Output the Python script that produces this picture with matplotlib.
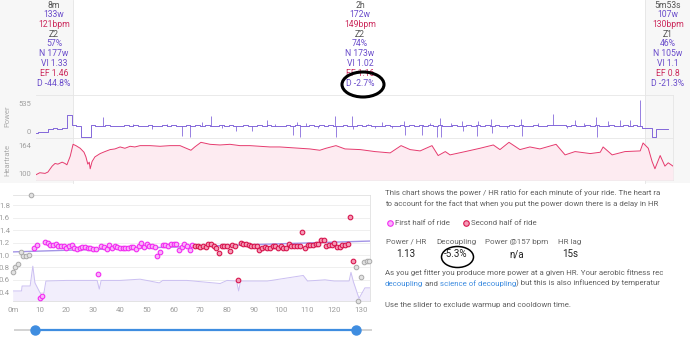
import numpy as np
import matplotlib
matplotlib.use('Agg')
import matplotlib.pyplot as plt
from matplotlib.patches import Ellipse, Rectangle

plt.rcParams['font.family'] = ['Roboto', 'DejaVu Sans']

W, H = 690, 363

GREY_TXT = '#555555'
PURPLE = '#6a4ccb'
CRIMSON = '#cc2a5c'
BLUE = '#3f8de0'

# summary columns: warmup / main / cooldown
stats_warmup = ['8m', '133w', '121bpm', 'Z2', '57%', 'N 177w', 'VI 1.33', 'EF 1.46', 'D -44.8%']
stats_main = ['2h', '172w', '149bpm', 'Z2', '74%', 'N 173w', 'VI 1.02', 'EF 1.16', 'D -2.7%']
stats_cooldown = ['5m53s', '107w', '130bpm', 'Z1', '46%', 'N 105w', 'VI 1.1', 'EF 0.8', 'D -21.3%']
stat_colors = [GREY_TXT, PURPLE, CRIMSON, GREY_TXT, PURPLE, PURPLE, PURPLE, CRIMSON, PURPLE]

# power trace, one value per minute (W)
power_min = list(range(134))
power_w = [58, 60, 62, 108, 112, 110, 113, 280,
           152, 141, 0, 0, 150, 139, 147, 155, 142, 148,
           138, 151, 145, 156, 140, 147, 153, 139, 146, 150,
           142, 154, 137, 148, 152, 141, 149, 144, 156, 140,
           147, 153, 138, 150, 145, 142, 155, 147, 139, 151,
           146, 154, 140, 148, 137, 152, 143, 150, 145, 141,
           155, 144, 149, 138, 152, 146, 141, 153, 147, 140,
           150, 143, 156, 139, 148, 145, 152, 138, 147, 154,
           141, 149, 145, 153, 139, 150, 144, 156, 142, 148,
           152, 137, 147, 154, 143, 149, 140, 151, 146, 155,
           139, 148, 153, 142, 150, 145, 138, 152, 147, 144,
           151, 160, 157, 149, 142, 153, 146, 140, 150, 145,
           154, 141, 148, 152, 139, 147, 155, 143, 150, 146,
           111, 112, 0, 102, 101, 103]
# short spikes / dropouts in the power trace
spike_t = [14.1, 20.3, 24.5, 27.6, 30.7, 32.4, 34.9, 36.8, 39.2, 42.0, 45.4, 48.5, 50.3,
           54.1, 54.8, 55.5, 56.8, 59.4, 62.9, 63.1, 66.4, 66.6, 69.8, 71.3, 72.7, 74.9,
           77.4, 77.6, 81.1, 82.9, 84.4, 85.0, 85.2, 87.4, 89.6, 89.8, 92.8, 93.0, 95.7,
           95.9, 99.0, 102.0, 102.2, 105.6, 108.7, 111.7, 113.4, 115.2, 117.8, 118.0,
           120.3, 122.9, 125.0, 127.1]
spike_w = [256, 172, 110, 170, 15, 0, 196, 271, 118, 83, 83, 219, 170,
           30, 196, 0, 178, 112, 271, 0, 271, 100, 172, 115, 189, 116,
           211, 30, 30, 178, 0, 249, 0, 175, 204, 72, 15, 204, 234,
           53, 115, 234, 10, 176, 302, 120, 219, 178, 255, 0,
           211, 219, 219, 480]

# heart rate trace (min, bpm)
hr_t = [0, 0.8, 1.9, 2.5, 3.4, 4.0, 4.6, 5.5, 6.1, 6.5, 7.2, 7.8, 8.4, 9.3, 10.1, 10.5,
        10.9, 11.2, 11.4, 11.8, 12.4, 13.5, 14.5, 15.6, 16.6, 17.7, 18.7, 19.8, 20.8,
        21.9, 24.0, 26.1, 28.2, 30.3, 31.6, 32.6, 33.4, 34.7, 36.6, 38.7, 40.8, 42.9,
        45.0, 47.1, 49.2, 51.3, 53.4, 55.5, 57.6, 59.7, 61.0, 63.1, 65.0, 68.2, 71.3,
        74.5, 76.8, 78.7, 80.8, 83.3, 84.6, 86.1, 87.1, 90.3, 93.4, 96.2, 97.6, 99.5,
        101.8, 103.9, 106.0, 109.4, 111.3, 113.4, 116.6, 118.7, 119.3, 121.2, 123.9,
        127.1, 127.7, 128.8, 129.6, 130.2, 131.3, 132.3, 133.0, 134.0]
hr_bpm = [108, 111, 110, 112, 121, 125, 124, 127, 125, 123, 136, 154, 152, 148, 142, 135,
          124, 127, 117, 128, 135, 140, 143, 146, 147, 150, 148, 151, 150,
          152, 152, 151, 152, 152, 148, 145, 150, 157, 154, 153, 154, 152,
          152, 151, 150, 150, 149, 148, 147, 145, 148, 152, 147, 146, 143,
          141, 152, 146, 144, 152, 137, 143, 138, 143, 148, 153, 146, 157,
          146, 150, 147, 154, 138, 143, 140, 142, 150, 138, 143,
          144, 156, 148, 128, 117, 137, 121, 126, 121]

# power / HR ratio per minute
ratio_min = list(range(134))
ratio = [0.73, 0.81, 0.85, 1.05, 0.99, 0.99, 1.00, 1.97, 1.11, 1.16,
         0.31, 0.34, 1.21, 1.20, 1.16, 1.16, 1.17, 1.15, 1.14, 1.14,
         1.12, 1.14, 1.16, 1.12, 1.09, 1.12, 1.13, 1.13, 1.12, 1.12,
         1.09, 1.10, 0.69, 1.14, 1.13, 1.10, 1.16, 1.11, 1.14, 1.13,
         1.12, 1.12, 1.11, 1.12, 1.13, 1.13, 1.10, 1.14, 1.19, 1.13,
         1.17, 1.14, 1.14, 1.13, 0.99, 1.05, 1.16, 1.16, 1.15, 1.17,
         1.17, 1.17, 1.08, 1.13, 1.17, 1.15, 1.08, 1.16, 1.15, 1.14,
         1.13, 1.15, 1.13, 1.17, 1.17, 1.15, 1.12, 1.04, 1.14, 1.15,
         1.15, 1.07, 1.16, 1.14, 0.60, 1.20, 1.18, 1.18, 1.16, 1.14,
         1.14, 1.14, 1.08, 1.11, 1.13, 1.11, 1.12, 1.15, 1.14, 1.12,
         1.14, 1.11, 1.12, 1.17, 1.15, 1.15, 1.15, 1.15, 1.37, 1.12,
         1.16, 1.16, 1.16, 1.17, 1.17, 1.24, 1.25, 1.14, 1.16, 1.16,
         1.19, 1.13, 1.13, 1.16, 1.16, 1.18, 1.62, 0.90, 0.81, 0.26,
         0.65, 0.89, 0.90, 0.91]
trend_x = [0, 133.3]
trend_y = [1.05, 1.225]
# light background trace under the ratio points
lag_t = [0, 3.3, 3.5, 6.5, 7.5, 8.3, 10.2, 11.4, 12.4, 20, 31.5, 32.3, 33, 40, 47.5, 50,
         54.7, 56, 65, 77.4, 80, 83.5, 84.3, 85, 95, 108.4, 110, 116.5, 120, 125.5,
         126.2, 127.1, 129.2, 131.4, 133.3]
lag_v = [0.42, 0.42, 0.50, 0.50, 0.82, 0.55, 0.39, 0.33, 0.58, 0.59, 0.59, 0.45, 0.59,
         0.59, 0.61, 0.59, 0.55, 0.59, 0.59, 0.54, 0.59, 0.58, 0.42, 0.58, 0.58, 0.67,
         0.58, 0.60, 0.58, 0.58, 0.72, 0.57, 0.30, 0.47, 0.47]

warmup_end, cooldown_start, half_split = 8, 128, 68
slider_track = [0.5, 134.0]
slider_lo, slider_hi = 8.3, 128.0


def box(x0, y0, x1, y1):
    return [x0 / W, 1 - y1 / H, (x1 - x0) / W, (y1 - y0) / H]


fig = plt.figure(figsize=(6.9, 3.63), dpi=100)

# background layer in pixel coords
bg = fig.add_axes([0, 0, 1, 1], zorder=0)
bg.set_xlim(0, W)
bg.set_ylim(H, 0)
bg.axis('off')
for x0, x1 in [(0, 73), (645, 690)]:
    bg.add_patch(Rectangle((x0, 0), x1 - x0, 183, color='#f7f7f7', lw=0))
for x in (73, 645):
    bg.plot([x, x], [0, 183], color='#e4e4e4', lw=0.6)
for y in (95, 137.7, 180):
    bg.plot([36, 673], [y, y], color='#e6e6e6', lw=0.6)
bg.plot([673, 673], [95, 180], color='#e6e6e6', lw=0.6)

for cx, rows in zip([54, 360, 668], [stats_warmup, stats_main, stats_cooldown]):
    for i, (txt, c) in enumerate(zip(rows, stat_colors)):
        bg.text(cx, 5 + i * 9.75, txt, color=c, fontsize=6.2, ha='center', va='center')

bg.text(7, 116, 'Power', rotation=90, fontsize=5.5, color='#aaaaaa', ha='center', va='center')
bg.text(7, 160, 'Heartrate', rotation=90, fontsize=5.5, color='#aaaaaa', ha='center', va='center')

# power chart
ax_p = fig.add_axes(box(36, 95, 673, 137.7), zorder=1)
ax_p.set_facecolor('none')
ax_p.step(power_min, power_w, where='mid', color='#7b5dd8', lw=0.65)
spike_base = np.array(power_w)[np.rint(spike_t).astype(int)]
ax_p.vlines(spike_t, spike_base, spike_w, color='#7b5dd8', lw=0.55)
ax_p.set_xlim(0, 134)
ax_p.set_ylim(-8, 540)
ax_p.set_xticks([])
ax_p.set_yticks([])
for s in ax_p.spines.values():
    s.set_visible(False)
ax_p.text(-0.008, 0.79, '535', transform=ax_p.transAxes, ha='right', va='center',
          fontsize=5.5, color='#a0a0a0')
ax_p.text(-0.008, 0.14, '0', transform=ax_p.transAxes, ha='right', va='center',
          fontsize=5.5, color='#a0a0a0')

# heart rate chart
ax_h = fig.add_axes(box(36, 137.7, 673, 180), zorder=1)
ax_h.set_facecolor('none')
ax_h.fill_between(hr_t, hr_bpm, 100, color='#fdebf1', lw=0)
ax_h.plot(hr_t, hr_bpm, color='#e63a6e', lw=0.7)
ax_h.set_xlim(0, 134)
ax_h.set_ylim(100, 164)
ax_h.set_xticks([])
ax_h.set_yticks([])
for s in ax_h.spines.values():
    s.set_visible(False)
ax_h.text(-0.008, 0.81, '164', transform=ax_h.transAxes, ha='right', va='center',
          fontsize=5.5, color='#a0a0a0')
ax_h.text(-0.008, 0.14, '100', transform=ax_h.transAxes, ha='right', va='center',
          fontsize=5.5, color='#a0a0a0')

# power / HR scatter
ax = fig.add_axes(box(12.7, 195, 370, 301), zorder=1)
ax.set_xlim(0, 133.3)
ax.set_ylim(0.258, 1.968)
y0 = ax.get_ylim()[0]
ax.fill_between(lag_t, lag_v, y0, color='#f2eefc', lw=0)
ax.plot(lag_t, lag_v, color='#cbbff2', lw=0.7)
ax.plot(trend_x, trend_y, color='#a394e6', lw=1.0)

rm = np.array(ratio_min)
rv = np.array(ratio)
grey = (rm < warmup_end) | (rm >= cooldown_start)
first = ~grey & (rm < half_split)
second = ~grey & (rm >= half_split)
ax.scatter(rm[grey], rv[grey], s=11, facecolor='#e2e2e2', edgecolor='#a9a9a9', lw=0.7,
           clip_on=False, zorder=3)
ax.scatter(rm[first], rv[first], s=11, facecolor='#f9b3f9', edgecolor='#f22cf2', lw=0.8,
           clip_on=False, zorder=3)
ax.scatter(rm[second], rv[second], s=11, facecolor='#f59bb6', edgecolor='#d8164f', lw=0.8,
           clip_on=False, zorder=3)

ax.set_xticks(range(0, 131, 10))
ax.set_xticklabels(['0m'] + [str(v) for v in range(10, 131, 10)])
ax.set_yticks([0.4, 0.6, 0.8, 1.0, 1.2, 1.4, 1.6, 1.8])
ax.set_yticklabels(['0.4', '0.6', '0.8', '1.0', '1.2', '1.4', '1.6', '1.8'])
ax.tick_params(length=0, labelsize=5.7, labelcolor='#9e9e9e')
ax.tick_params(axis='x', pad=4)
ax.tick_params(axis='y', pad=2)
ax.grid(axis='y', color='#ececec', lw=0.6)
ax.set_axisbelow(True)
ax.spines['left'].set_visible(False)
for side in ('top', 'right', 'bottom'):
    ax.spines[side].set_color('#e0e0e0')
    ax.spines[side].set_linewidth(0.6)

# range slider
sl = fig.add_axes(box(12.7, 322, 370, 337), zorder=1)
sl.set_xlim(0, 133.3)
sl.set_ylim(-1, 1)
sl.axis('off')
sl.plot(slider_track, [0, 0], color='#cccccc', lw=1.2, solid_capstyle='butt', clip_on=False)
sl.plot([slider_lo, slider_hi], [0, 0], color=BLUE, lw=1.6, solid_capstyle='butt')
sl.plot([slider_lo, slider_hi], [0, 0], 'o', color=BLUE, ms=6.5, clip_on=False)

# description panel
tp = fig.add_axes(box(383, 185, 663, 320), zorder=2)
tp.set_xlim(383, 663)
tp.set_ylim(320, 185)
tp.axis('off')
FS = 5.65
body = dict(fontsize=FS, color='#616161', va='center', ha='left', clip_on=True)
tp.text(385, 193, 'This chart shows the power / HR ratio for each minute of your ride. '
        'The heart ra', **body)
tp.text(385, 204, 'to account for the fact that when you put the power down there is a delay in HR',
        **body)
tp.scatter([390], [223], s=16, facecolor='#f9b3f9', edgecolor='#f22cf2', lw=0.8, clip_on=False)
tp.scatter([466], [223], s=16, facecolor='#f59bb6', edgecolor='#d8164f', lw=0.8, clip_on=False)
tp.text(395, 223, 'First half of ride', **body)
tp.text(471, 223, 'Second half of ride', **body)

summary_labels = ['Power / HR', 'Decoupling', 'Power @157 bpm', 'HR lag']
summary_values = ['1.13', '-5.3%', 'n/a', '15s']
for cx, lab, val in zip([406, 456, 517, 570], summary_labels, summary_values):
    tp.text(cx, 242, lab, fontsize=5.8, color='#666666', ha='center', va='center')
    tp.text(cx, 254, val, fontsize=7, color='#222222', ha='center', va='center')

tp.text(385, 273, 'As you get fitter you produce more power at a given HR. '
        'Your aerobic fitness rec', **body)
segments = [('decoupling', BLUE), (' and ', '#616161'), ('science of decoupling', BLUE),
            (') but this is also influenced by temperatur', '#616161')]
prev = tp.text(385, 284, segments[0][0], **{**body, 'color': segments[0][1]})
for seg, c in segments[1:]:
    prev = tp.annotate(seg, xy=(1, 0), xycoords=prev, va='bottom', ha='left',
                       fontsize=FS, color=c, clip_on=True)
tp.text(385, 305, 'Use the slider to exclude warmup and cooldown time.', **body)

# hand-drawn highlight circles
ov = fig.add_axes([0, 0, 1, 1], zorder=10)
ov.set_xlim(0, W)
ov.set_ylim(H, 0)
ov.axis('off')
ov.add_patch(Ellipse((363, 84.5), 42, 25, fill=False, ec='black', lw=2.2))
ov.add_patch(Ellipse((457.5, 257), 32, 21, fill=False, ec='black', lw=1.1))

fig.savefig('out.png', dpi=100)
